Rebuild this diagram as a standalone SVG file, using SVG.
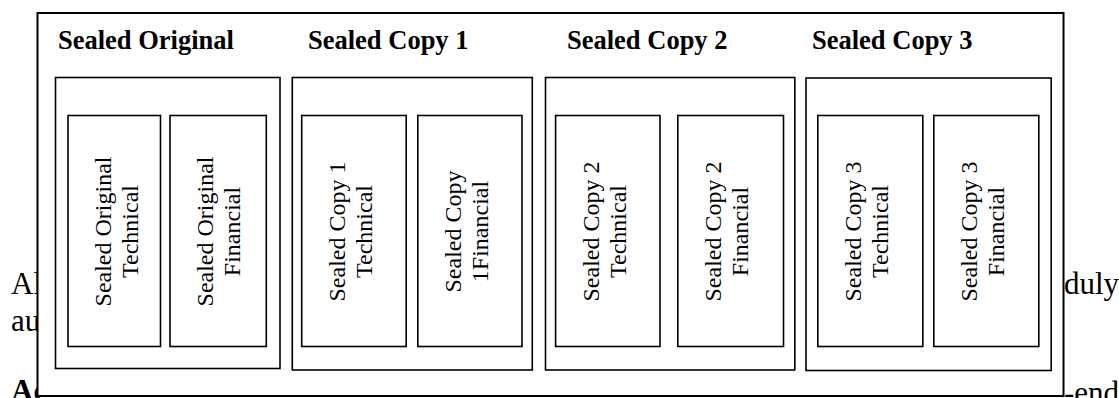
<svg xmlns="http://www.w3.org/2000/svg" width="1119" height="398" viewBox="0 0 1119 398">
<style>
.bg{font-family:"Liberation Serif","Times New Roman",serif;font-size:31px;fill:#000}
.bgb{font-family:"Liberation Serif","Times New Roman",serif;font-size:31px;font-weight:bold;fill:#000}
.outer{fill:#fff;stroke:#000;stroke-width:2}
.grp{fill:#fff;stroke:#000;stroke-width:1.6}
.box{fill:#fff;stroke:#000;stroke-width:1.6}
.hd{font-family:"Liberation Serif","Times New Roman",serif;font-size:26.5px;font-weight:bold;fill:#000}
.lbl{font-family:"Liberation Serif","Times New Roman",serif;font-size:24px;fill:#000;text-anchor:middle}
</style>
<rect width="1119" height="398" fill="#fff"/>
<g id="page-text">
<text class="bg" x="11" y="294">Al</text>
<text class="bg" x="11" y="331">au</text>
<text class="bgb" x="11" y="401">Ac</text>
<text class="bg" x="1064" y="294">duly</text>
<text class="bg" x="1064" y="403">-end</text>
</g>
<g id="frame">
<rect class="outer" x="37.5" y="13" width="1026" height="383"/>
</g>
<g id="sealed-original">
<text class="hd" x="58" y="48.5">Sealed Original</text>
<rect class="grp" x="55.5" y="77.5" width="224.5" height="291"/>
<g id="so-technical">
<rect class="box" x="68" y="115.5" width="92.5" height="231"/>
<text class="lbl" transform="translate(68,231.5) rotate(-90)"><tspan x="0" y="43">Sealed Original</tspan><tspan x="0" y="70">Technical</tspan></text>
</g>
<g id="so-financial">
<rect class="box" x="170" y="115.5" width="96.3" height="231"/>
<text class="lbl" transform="translate(170,231.5) rotate(-90)"><tspan x="0" y="43">Sealed Original</tspan><tspan x="0" y="70">Financial</tspan></text>
</g>
</g>
<g id="sealed-copy-1">
<text class="hd" x="308" y="48.5">Sealed Copy 1</text>
<rect class="grp" x="292.3" y="77.5" width="240" height="292.5"/>
<g id="c1-technical">
<rect class="box" x="301.7" y="115.5" width="104.5" height="231"/>
<text class="lbl" transform="translate(301.7,231.5) rotate(-90)"><tspan x="0" y="43">Sealed Copy 1</tspan><tspan x="0" y="70">Technical</tspan></text>
</g>
<g id="c1-financial">
<rect class="box" x="417.8" y="115.5" width="104.2" height="231"/>
<text class="lbl" transform="translate(417.8,231.5) rotate(-90)"><tspan x="0" y="43">Sealed Copy</tspan><tspan x="0" y="70">1Financial</tspan></text>
</g>
</g>
<g id="sealed-copy-2">
<text class="hd" x="567" y="48.5">Sealed Copy 2</text>
<rect class="grp" x="545.5" y="77.5" width="249.3" height="292.5"/>
<g id="c2-technical">
<rect class="box" x="555.6" y="115.5" width="104.4" height="231"/>
<text class="lbl" transform="translate(555.6,231.5) rotate(-90)"><tspan x="0" y="43">Sealed Copy 2</tspan><tspan x="0" y="70">Technical</tspan></text>
</g>
<g id="c2-financial">
<rect class="box" x="677.8" y="115.5" width="105.7" height="231"/>
<text class="lbl" transform="translate(677.8,231.5) rotate(-90)"><tspan x="0" y="43">Sealed Copy 2</tspan><tspan x="0" y="70">Financial</tspan></text>
</g>
</g>
<g id="sealed-copy-3">
<text class="hd" x="812" y="48.5">Sealed Copy 3</text>
<rect class="grp" x="806" y="78" width="245.2" height="292.5"/>
<g id="c3-technical">
<rect class="box" x="817.8" y="115.5" width="105" height="231"/>
<text class="lbl" transform="translate(817.8,231.5) rotate(-90)"><tspan x="0" y="43">Sealed Copy 3</tspan><tspan x="0" y="70">Technical</tspan></text>
</g>
<g id="c3-financial">
<rect class="box" x="933.8" y="115.5" width="105" height="231"/>
<text class="lbl" transform="translate(933.8,231.5) rotate(-90)"><tspan x="0" y="43">Sealed Copy 3</tspan><tspan x="0" y="70">Financial</tspan></text>
</g>
</g>
<g id="connectors"/>
</svg>
